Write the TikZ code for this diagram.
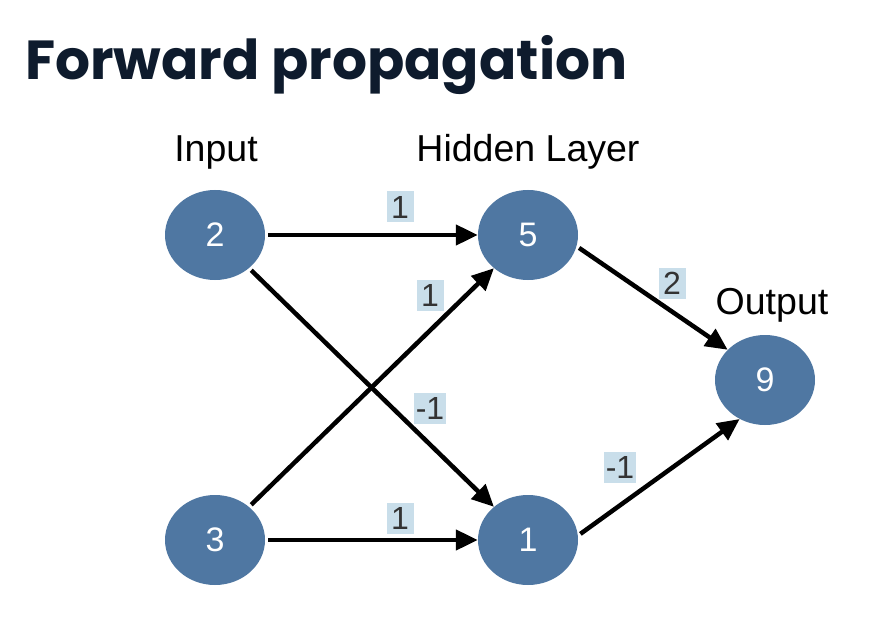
\documentclass[tikz,border=0pt]{standalone}
\usepackage{fontspec}
\setmainfont{Liberation Sans}
\newfontfamily\titlefont{Poppins}
\usetikzlibrary{shapes.geometric,arrows.meta}

\definecolor{nodeblue}{HTML}{4F77A2}
\definecolor{wbox}{HTML}{C9DEEA}
\definecolor{navy}{HTML}{0E1B2D}

\tikzset{
	neuron/.style={ellipse, fill=nodeblue, text=white, minimum width=100bp, minimum height=90bp, inner sep=0pt, font=\fontsize{34bp}{36bp}\selectfont},
	layername/.style={font=\fontsize{37.5bp}{40bp}\selectfont},
	wlabel/.style={fill=wbox, text=black!80, inner sep=2bp, minimum height=31bp, minimum width=27bp, font=\fontsize{32bp}{34bp}\selectfont},
	conn/.style={-{Triangle[length=22bp,width=20bp]}, line width=4.5bp, shorten <=3bp}
}

\begin{document}
\begin{tikzpicture}[x=1bp,y=-1bp]
	\useasboundingbox (0,0) rectangle (892,642);

	\node[anchor=base west, text=navy, inner sep=0pt, font=\titlefont\bfseries\fontsize{55bp}{60bp}\selectfont] (title) at (25,80) {Forward propagation};

	\node[neuron] (in2) at (215,235) {2};
	\node[neuron] (in3) at (215,540) {3};
	\node[neuron] (h5) at (528,235) {5};
	\node[neuron] (h1) at (528,540) {1};
	\node[neuron] (out9) at (765,380) {9};

	\node[layername] (linput) at (216,152) {Input};
	\node[layername] (lhidden) at (528,152) {Hidden Layer};
	\node[layername] (loutput) at (772,305) {Output};

	\draw[conn] (in2) -- (h5);
	\draw[conn] (in2) -- (h1);
	\draw[conn] (in3) -- (h5);
	\draw[conn] (in3) -- (h1);
	\draw[conn] (h5.-13) -- (out9.141);
	\draw[conn] (h1.5) -- (out9.237);

	\node[wlabel] (w25) at (400,207) {1};
	\node[wlabel] (w35) at (430,295) {1};
	\node[wlabel] (w21) at (430,408) {-1};
	\node[wlabel] (w31) at (400,518) {1};
	\node[wlabel] (w59) at (672,283) {2};
	\node[wlabel] (w19) at (620,467) {-1};
\end{tikzpicture}
\end{document}
